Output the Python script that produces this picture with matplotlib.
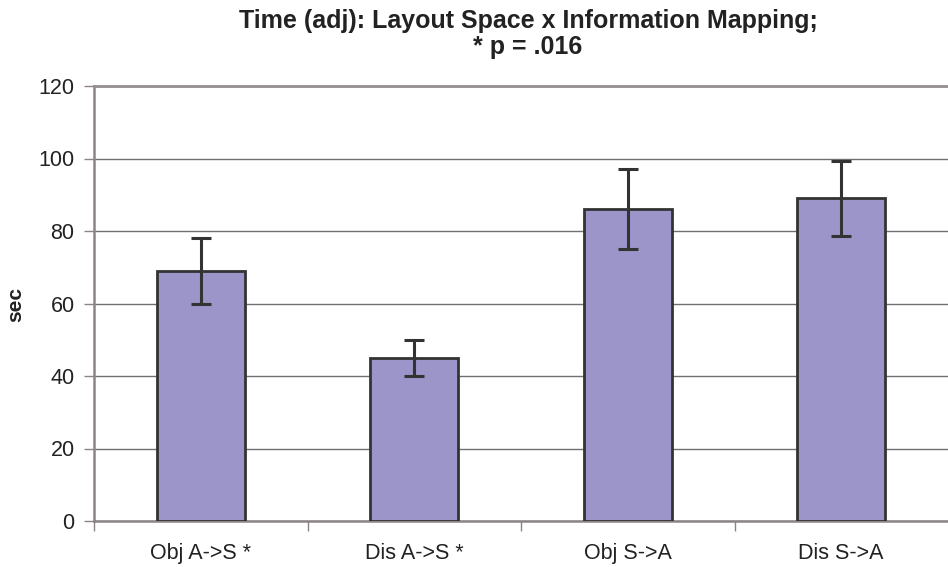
import matplotlib
matplotlib.use("Agg")
import matplotlib.pyplot as plt
from matplotlib.ticker import FixedLocator, NullFormatter

plt.rcParams['font.family'] = ['Liberation Sans', 'DejaVu Sans']

categories = ["Obj A->S *", "Dis A->S *", "Obj S->A", "Dis S->A"]
values = [69, 45, 86, 89]
errors = [9.2, 5.0, 11.1, 10.4]
yticks = [0, 20, 40, 60, 80, 100, 120]

fig = plt.figure(figsize=(9.48, 5.67), dpi=100)
ax = fig.add_axes([94/948, 1 - 521/567, 1 - 94/948, (521 - 86)/567])

x = list(range(len(categories)))
ax.bar(x, values, width=0.41, color='#9b95c9', edgecolor='#333333', linewidth=2, zorder=3)
ax.errorbar(x, values, yerr=errors, fmt='none', ecolor='#333333', elinewidth=2.2,
            capsize=7, capthick=2.2, zorder=4)

ax.set_xlim(-0.5, len(categories) - 0.5)
ax.set_ylim(0, 120)
ax.set_yticks(yticks)
ax.yaxis.grid(True, color='#707070', linewidth=1, zorder=0)
ax.set_axisbelow(True)

ax.set_xticks(x)
ax.set_xticklabels(categories, fontsize=15.5, color='#222222')
ax.tick_params(axis='x', which='major', length=0, pad=16)
ax.xaxis.set_minor_locator(FixedLocator([-0.5, 0.5, 1.5, 2.5]))
ax.xaxis.set_minor_formatter(NullFormatter())
ax.tick_params(axis='x', which='minor', length=7, width=1, color='#8c8484', direction='out')
ax.tick_params(axis='y', length=7, width=1, color='#8c8484', labelsize=15.5, labelcolor='#222222', pad=7)

for s in ['left', 'bottom']:
    ax.spines[s].set_color('#8c8484')
    ax.spines[s].set_linewidth(1.8)
ax.spines['top'].set_color('#968e8e')
ax.spines['top'].set_linewidth(2)
ax.spines['right'].set_visible(False)

fig.text(16/948, 1 - 305/567, 'sec', rotation=90, ha='center', va='center',
         fontsize=15, fontweight='bold', color='#222222')

fig.text(528/948, 1 - 34/567, "Time (adj): Layout Space x Information Mapping;\n* p = .016",
         ha='center', va='center', fontsize=18, fontweight='bold', color='#222222', linespacing=1.1)

fig.savefig('out.png', dpi=100)
